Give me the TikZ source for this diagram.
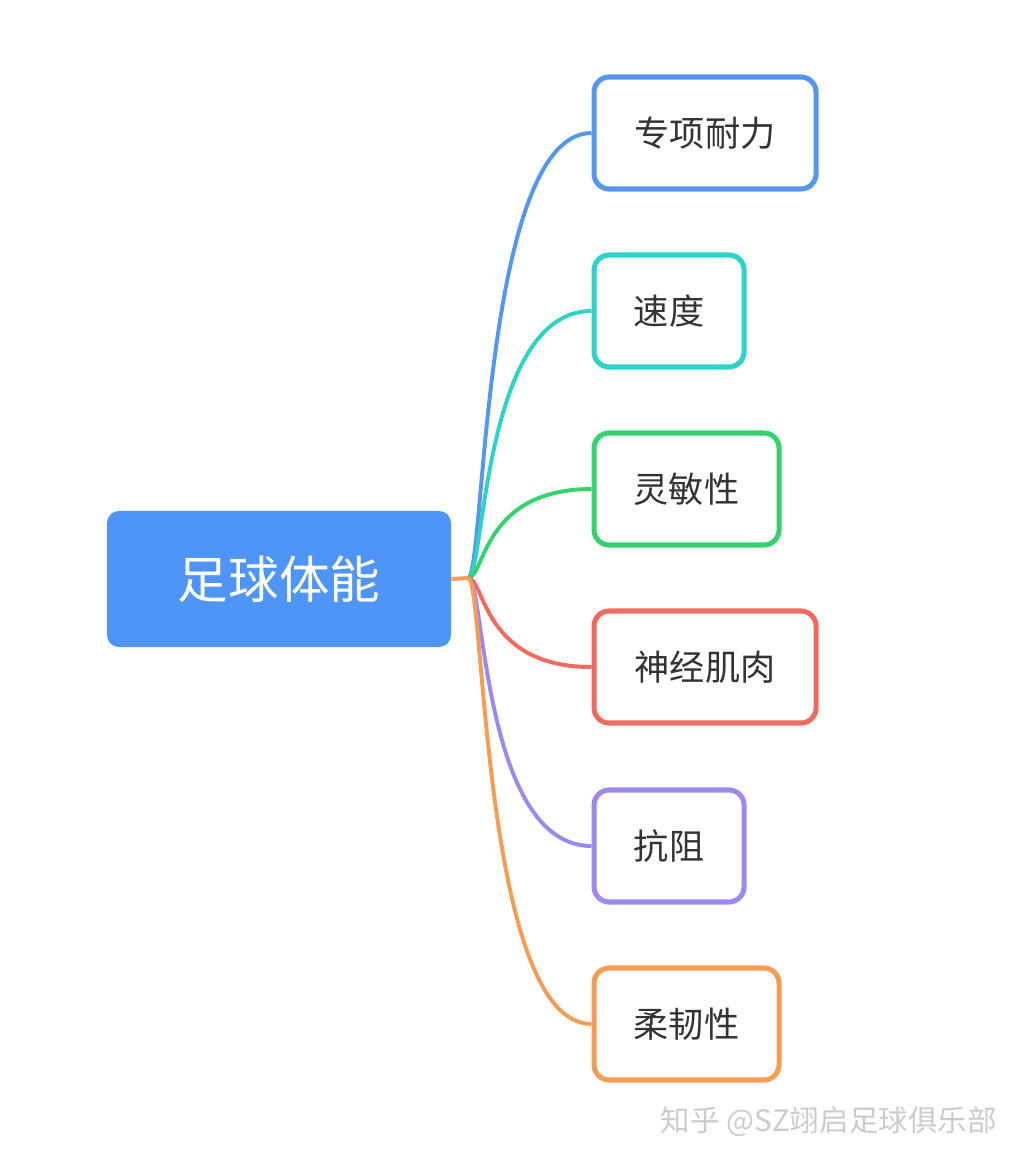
\documentclass[tikz,border=0pt]{standalone}
\usepackage{fontspec}
\setmainfont{Noto Sans CJK SC}
\usetikzlibrary{positioning}
\definecolor{rootblue}{HTML}{4F95F7}
\definecolor{cblue}{HTML}{5596EE}
\definecolor{ccyan}{HTML}{2ED3C7}
\definecolor{cgreen}{HTML}{38D16F}
\definecolor{cred}{HTML}{EE6B5F}
\definecolor{cpurple}{HTML}{9D88EC}
\definecolor{corange}{HTML}{F59D57}
\definecolor{txtgray}{HTML}{333333}
\begin{document}
\begin{tikzpicture}[x=0.025cm,y=-0.025cm,
 root/.style={fill=rootblue,rounded corners=0.3cm,minimum width=8.6cm,minimum height=3.4cm,
   text=white,font=\fontsize{36}{40}\selectfont},
 topic/.style={line width=3.6pt,rounded corners=0.38cm,fill=white,minimum height=2.8cm,
   text=txtgray,font=\fontsize{25}{30}\selectfont,anchor=west},
 link/.style={line width=2.8pt}]
\useasboundingbox (0,0) rectangle (1034,1164);
\node[root] (root) at (279,579) {足球体能};
\coordinate (j) at (468,578);
\foreach \i/\txt/\col/\yy/\ww in {1/专项耐力/cblue/133/5.55,2/速度/ccyan/311/3.75,
  3/灵敏性/cgreen/489/4.625,4/神经肌肉/cred/667/5.55,5/抗阻/cpurple/846/3.75,
  6/柔韧性/corange/1024/4.625}{
 \node[topic,draw=\col,minimum width=\ww cm] (b\i) at (591.5,\yy) {\txt};
 \draw[link,\col] (j) .. controls +(17,0) and +(-110,0) .. (b\i.west);
}
\draw[link,corange] (root.east) -- (j);
% watermark
\node[anchor=west,text=gray!40,font=\fontsize{21}{24}\selectfont] (mark) at (656,1122) {知乎 @SZ翊启足球俱乐部};
\end{tikzpicture}
\end{document}
